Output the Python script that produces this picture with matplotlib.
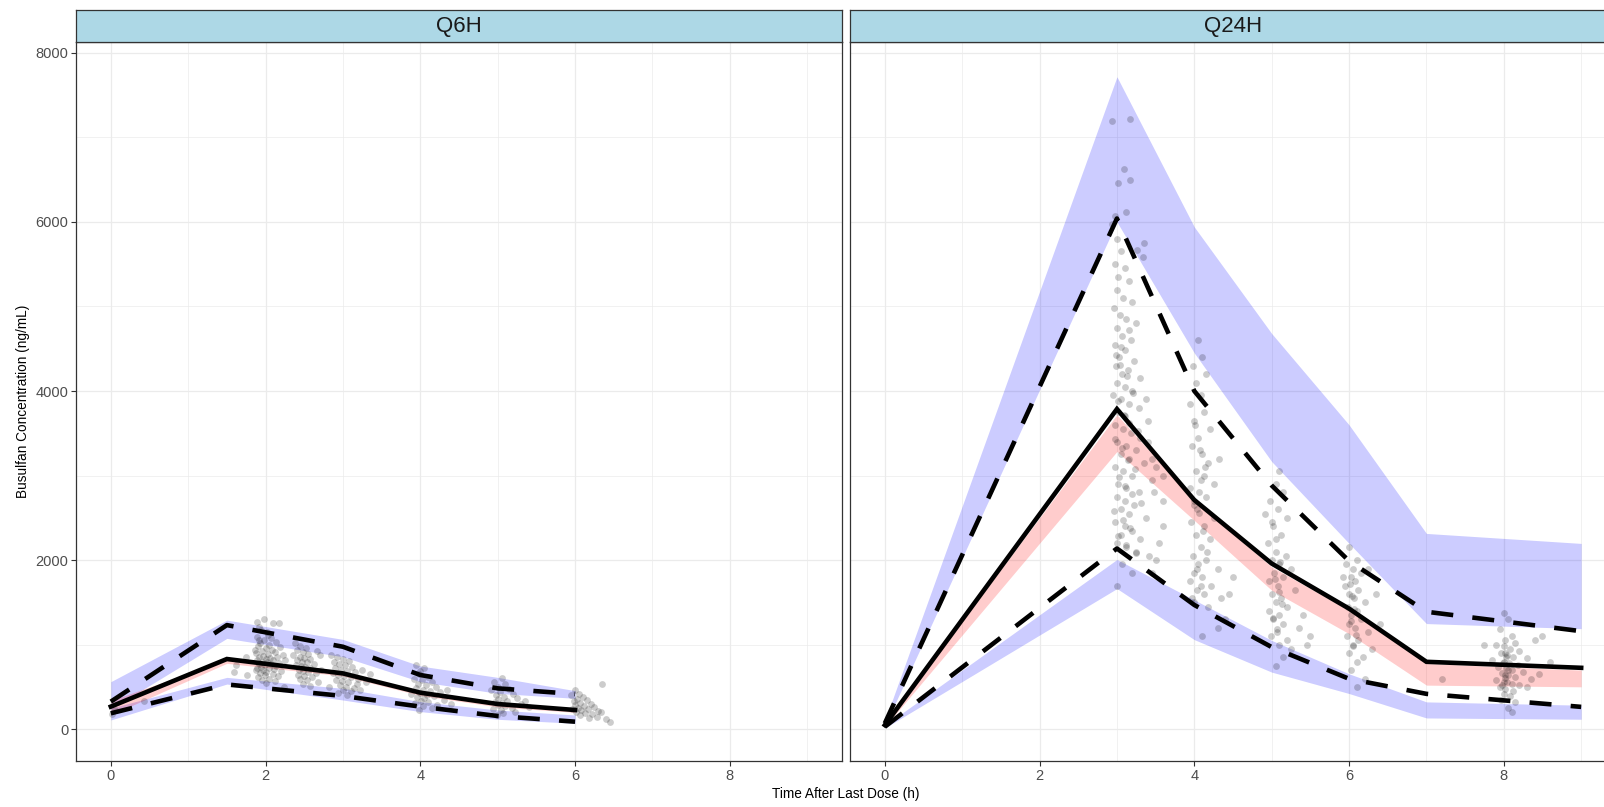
import matplotlib
matplotlib.use("Agg")
import matplotlib.pyplot as plt
import numpy as np

plt.rcParams['font.family'] = ['Liberation Sans', 'DejaVu Sans']

# ---------------- data ----------------
panels = ["Q6H", "Q24H"]

# Q6H simulated percentile summaries (bin midpoints)
q6_bin = [0, 1.5, 3, 4, 5, 6]
q6_p50 = [268, 831, 661, 433, 299, 228]
q6_p50_lo = [170, 780, 630, 400, 265, 200]
q6_p50_hi = [340, 822, 672, 432, 300, 236]
q6_p95 = [327, 1232, 976, 642, 484, 417]
q6_p95_lo = [240, 1075, 858, 563, 425, 366]
q6_p95_hi = [563, 1291, 1063, 748, 614, 457]
q6_p05 = [189, 530, 394, 268, 157, 90]
q6_p05_lo = [110, 535, 346, 209, 118, 71]
q6_p05_hi = [250, 614, 484, 327, 228, 169]

# Q24H simulated percentile summaries
q24_bin = [0, 3, 4, 5, 6, 7, 9]
q24_p50 = [50, 3787, 2711, 1960, 1427, 798, 727]
q24_p50_lo = [30, 3285, 2470, 1644, 1130, 522, 502]
q24_p50_hi = [60, 3720, 2700, 1921, 1407, 778, 700]
q24_p95 = [70, 6040, 4000, 2883, 1990, 1390, 1160]
q24_p95_lo = [40, 6000, 4450, 3166, 2198, 1250, 1190]
q24_p95_hi = [100, 7716, 5940, 4680, 3600, 2316, 2198]
q24_p05 = [30, 2138, 1470, 972, 597, 419, 265]
q24_p05_lo = [15, 1664, 1060, 676, 423, 134, 119]
q24_p05_hi = [45, 2008, 1530, 1051, 656, 324, 285]

# observed concentrations Q6H (time, conc)
q6_obs_t = [0.02, 0.43, 0.05, 1.59, 1.76, 1.75, 1.62,
            1.89, 1.98, 2.10, 2.17, 1.91, 2.02, 1.89, 1.98, 1.93, 2.05, 1.90, 2.00, 2.08, 1.95,
            2.12, 1.88, 2.03, 1.97, 2.15, 1.92, 2.06, 2.00, 1.89, 2.10, 1.95, 2.02, 2.18, 1.91,
            2.07, 1.99, 2.13, 1.94, 2.04, 1.89, 2.11, 1.97, 2.20, 2.01, 1.93, 2.09, 1.99, 2.16,
            1.90, 2.05, 1.96, 2.12, 2.00, 2.24, 2.03, 1.94, 2.07, 2.14, 1.92, 2.19, 2.22, 2.25,
            1.86, 1.87,
            2.38, 2.45, 2.52, 2.41, 2.48, 2.55, 2.36, 2.44, 2.50, 2.58, 2.40, 2.47, 2.53, 2.62,
            2.39, 2.46, 2.51, 2.57, 2.43, 2.49, 2.55, 2.65, 2.42, 2.50, 2.60, 2.45, 2.53, 2.68,
            2.48, 2.58, 2.70, 2.72, 2.66,
            2.85, 2.92, 3.00, 3.08, 2.88, 2.95, 3.03, 3.12, 2.90, 2.98, 3.05, 3.15, 2.87, 2.94,
            3.02, 3.10, 3.20, 2.91, 2.99, 3.06, 3.18, 2.96, 3.04, 3.14, 3.00, 3.10, 2.93, 3.05,
            3.25, 3.30, 3.35, 2.82, 3.22,
            3.95, 4.05, 4.00, 3.98, 4.10, 3.92, 4.02, 4.15, 3.97, 4.07, 4.20, 3.94, 4.03, 4.12,
            4.25, 3.99, 4.08, 4.18, 3.96, 4.05, 4.30, 4.01, 4.10, 3.93, 4.22, 4.04, 4.15, 3.98,
            4.40, 3.88, 4.35,
            5.05, 4.95, 5.10, 5.00, 5.15, 4.92, 5.03, 5.20, 4.98, 5.08, 5.25, 5.01, 5.12, 4.96,
            5.05, 5.30, 5.00, 5.10, 5.18, 4.94, 5.04, 5.40, 5.22, 5.07, 4.99, 5.35,
            6.35, 6.00, 6.05, 5.95, 6.10, 6.02, 6.15, 5.98, 6.07, 6.20, 6.00, 6.12, 6.25, 6.04,
            6.17, 5.96, 6.08, 6.30, 6.01, 6.13, 6.22, 6.06, 6.28, 6.40, 6.45, 6.18, 6.33]
q6_obs_c = [180, 335, 230, 673, 640, 860, 760,
            1272, 1300, 1252, 1252, 1213, 1154, 1094, 1055, 1020, 1000, 980, 960, 940, 925,
            910, 900, 890, 870, 860, 850, 840, 830, 820, 815, 800, 790, 785, 775,
            770, 760, 750, 740, 730, 720, 710, 700, 690, 680, 665, 655, 640, 630,
            620, 600, 585, 570, 543, 504, 1110, 1170, 1080, 1030, 1060, 970, 880, 820,
            940, 700,
            1020, 990, 960, 940, 910, 895, 880, 860, 845, 830, 815, 800, 790, 775,
            760, 750, 735, 720, 705, 690, 675, 660, 645, 630, 615, 595, 580, 560,
            540, 510, 880, 700, 930,
            880, 850, 830, 810, 790, 770, 755, 740, 720, 705, 690, 675, 660, 645,
            630, 615, 600, 585, 570, 555, 540, 520, 505, 490, 470, 450, 430, 400,
            700, 560, 650, 500, 470,
            760, 720, 690, 650, 620, 600, 580, 560, 540, 520, 500, 485, 470, 455,
            440, 425, 410, 395, 380, 365, 350, 335, 320, 305, 290, 270, 250, 230,
            300, 420, 460,
            610, 560, 530, 500, 480, 460, 440, 420, 400, 385, 370, 355, 340, 325,
            310, 300, 285, 270, 255, 240, 225, 260, 210, 190, 170, 330,
            540, 460, 420, 400, 380, 360, 345, 330, 315, 300, 290, 275, 265, 255,
            245, 235, 225, 215, 205, 195, 180, 165, 150, 120, 90, 130, 200]

# observed concentrations Q24H (time, conc)
q24_obs_t = [2.93, 3.17, 3.09, 3.01, 3.17, 2.98, 3.12, 2.93, 3.35, 3.26, 3.34, 3.00, 3.05, 2.98,
             3.10, 3.02, 3.15, 3.00, 3.08, 3.20, 2.96, 3.04, 3.12, 3.25, 3.00, 3.07, 3.18, 2.97,
             3.10, 3.03, 3.22, 2.99, 3.14, 3.06, 3.30, 3.00, 3.11, 3.20, 2.95, 3.05, 3.15, 3.28,
             3.02, 3.10, 3.40, 2.98, 3.08, 3.18, 3.30, 3.00, 3.12, 3.25, 3.05, 3.15, 3.35, 2.97,
             3.08, 3.20, 3.45, 3.02, 3.12, 3.28, 3.00, 3.10, 3.22, 3.05, 3.15, 3.38, 2.98, 3.10,
             3.20, 3.05, 3.30, 3.00, 3.12, 3.25, 3.42, 3.50, 3.60, 3.60, 3.07, 3.20, 3.00, 3.45,
             3.55, 3.40, 3.45, 3.50, 3.38, 3.48, 3.60,
             2.99, 3.04, 3.13, 3.21, 3.01, 3.09, 3.16, 3.27, 2.97, 3.06, 3.14, 3.23, 3.03, 3.11,
             3.19, 3.31, 2.96, 3.08, 3.17, 3.02, 3.12, 3.24, 3.05, 3.15,
             4.05, 4.10, 3.98, 4.15, 4.02, 4.08, 3.95, 4.12, 4.00, 4.20, 4.05, 3.97, 4.10, 4.18,
             4.02, 4.08, 3.94, 4.15, 4.00, 4.06, 4.25, 3.96, 4.12, 4.02, 4.20, 4.08, 3.98, 4.15,
             4.05, 4.30, 4.00, 4.10, 3.95, 4.22, 4.04, 4.12, 4.35, 4.00, 4.18, 4.45, 4.40, 4.30,
             4.10, 4.50, 4.25, 4.32,
             4.01, 4.07, 4.13, 3.99, 4.04, 4.11, 4.17, 4.03, 4.09, 3.97, 4.06, 4.14,
             5.10, 5.05, 5.15, 4.98, 5.08, 5.20, 5.02, 5.12, 4.95, 5.06, 5.18, 5.00, 5.10, 5.25,
             5.03, 5.15, 4.97, 5.08, 5.30, 5.00, 5.12, 5.05, 5.20, 4.96, 5.10, 5.02, 5.15, 5.35,
             5.07, 4.99, 5.20, 5.10, 5.25, 5.45, 5.15, 5.05, 5.40, 5.50, 4.92,
             5.01, 5.06, 5.11, 5.04, 5.09, 5.13, 5.02, 5.07,
             6.00, 6.10, 5.96, 6.05, 6.15, 6.02, 6.08, 5.95, 6.12, 6.00, 6.06, 6.20, 5.98, 6.10,
             6.03, 6.16, 6.00, 6.08, 6.25, 5.97, 6.12, 6.05, 6.30, 6.00, 6.18, 6.10, 6.02, 6.35,
             6.40, 6.20, 6.10, 5.92, 6.25,
             6.01, 6.04, 6.07, 6.03, 6.09, 6.05,
             8.00, 8.05, 7.95, 8.10, 8.02, 8.15, 7.90, 8.00, 8.08, 8.20, 7.97, 8.04, 8.12, 8.30,
             7.85, 8.00, 8.07, 8.18, 7.93, 8.03, 8.10, 8.25, 7.98, 8.05, 8.15, 8.35, 7.90, 8.00,
             8.10, 8.20, 7.95, 8.02, 8.12, 8.00, 8.08, 7.97, 8.15, 8.05, 8.50, 8.45, 7.75, 8.60,
             7.20, 8.40, 8.30, 8.10,
             8.01, 8.03, 7.99, 8.06, 8.02, 8.04, 7.98, 8.01]
q24_obs_c = [7190, 7215, 6620, 6460, 6490, 6070, 6120, 5980, 5750, 5670, 5580, 5800, 5650, 5500,
             5450, 5350, 5300, 5200, 5100, 5050, 4980, 4900, 4850, 4800, 4750, 4650, 4600, 4550,
             4480, 4400, 4350, 4300, 4250, 4200, 4150, 4100, 4050, 4000, 3950, 3900, 3850, 3800,
             3750, 3700, 3650, 3600, 3550, 3500, 3450, 3400, 3350, 3300, 3250, 3200, 3150, 3100,
             3050, 3000, 2950, 2900, 2850, 2800, 2750, 2700, 2650, 2600, 2550, 2500, 2450, 2400,
             2350, 2300, 2250, 2200, 2150, 2100, 2050, 2000, 2400, 2700, 1950, 1850, 1700, 1850,
             2200, 3400, 3200, 3100, 3900, 2800, 3000,
             4420, 4310, 4180, 3980, 3880, 3720, 3620, 3530, 3430, 3330, 3180, 3080, 2980, 2880,
             2780, 2680, 2580, 2480, 2380, 2280, 2180, 2080, 4520, 4720,
             4600, 4400, 4300, 4200, 4100, 3950, 3850, 3750, 3650, 3550, 3450, 3350, 3250, 3150,
             3050, 2950, 2850, 2750, 2650, 2560, 2500, 2450, 2400, 2300, 2250, 2150, 2050, 2000,
             1950, 1900, 1850, 1800, 1750, 1700, 1650, 1600, 1550, 1500, 1450, 1600, 1300, 1200,
             1100, 1800, 2900, 3200,
             3600, 3300, 3000, 2700, 2600, 2350, 2100, 1900, 1700, 1550, 2800, 3100,
             3050, 2900, 2800, 2700, 2600, 2500, 2400, 2300, 2200, 2100, 2050, 2000, 1950, 1900,
             1850, 1800, 1750, 1700, 1650, 1600, 1550, 1500, 1450, 1400, 1350, 1300, 1250, 1200,
             1150, 1100, 1050, 1000, 950, 1000, 850, 750, 1350, 1100, 2550,
             2450, 2250, 1980, 1780, 1620, 1480, 1320, 1180,
             2150, 2000, 1950, 1900, 1850, 1800, 1750, 1700, 1650, 1600, 1550, 1500, 1450, 1400,
             1350, 1300, 1250, 1200, 1150, 1100, 1050, 1000, 950, 900, 850, 800, 700, 1600,
             1250, 600, 500, 1800, 1900,
             1720, 1580, 1420, 1280, 1120, 980,
             1380, 1300, 1180, 1100, 1050, 1020, 1000, 980, 950, 930, 900, 880, 860, 840,
             820, 800, 780, 760, 740, 720, 700, 680, 660, 640, 620, 600, 580, 560,
             540, 520, 500, 480, 450, 420, 390, 350, 320, 250, 1100, 650, 1000, 800,
             600, 1050, 500, 200,
             900, 850, 780, 700, 640, 560, 520, 610]

x_ticks = [0, 2, 4, 6, 8]
y_ticks = [0, 2000, 4000, 6000, 8000]
x_label = "Time After Last Dose (h)"
y_label = "Busulfan Concentration (ng/mL)"

# ---------------- figure ----------------
W, H = 1604, 807
fig = plt.figure(figsize=(W / 100, H / 100), dpi=100)
fig.patch.set_facecolor("white")

pan_w = 766 / W
pan_b = (H - 761) / H
pan_h = (761 - 42) / H
strip_h = 32 / H
lefts = [76 / W, 850 / W]

series = {
    "Q6H": (q6_bin, q6_p05, q6_p05_lo, q6_p05_hi, q6_p50, q6_p50_lo, q6_p50_hi,
            q6_p95, q6_p95_lo, q6_p95_hi, q6_obs_t, q6_obs_c),
    "Q24H": (q24_bin, q24_p05, q24_p05_lo, q24_p05_hi, q24_p50, q24_p50_lo, q24_p50_hi,
             q24_p95, q24_p95_lo, q24_p95_hi, q24_obs_t, q24_obs_c),
}

grid_col = "#EBEBEB"
for i, name in enumerate(panels):
    (tb, p05, p05lo, p05hi, p50, p50lo, p50hi, p95, p95lo, p95hi, ot, oc) = series[name]
    ax = fig.add_axes([lefts[i], pan_b, pan_w, pan_h])
    ax.set_xlim(-0.45, 9.45)
    ax.set_ylim(-375, 8127)
    # grid
    for xv in [1, 3, 5, 7, 9]:
        ax.axvline(xv, color=grid_col, lw=0.5, zorder=0)
    for yv in [1000, 3000, 5000, 7000]:
        ax.axhline(yv, color=grid_col, lw=0.5, zorder=0)
    for xv in x_ticks:
        ax.axvline(xv, color=grid_col, lw=0.9, zorder=0)
    for yv in y_ticks:
        ax.axhline(yv, color=grid_col, lw=0.9, zorder=0)

    ax.fill_between(tb, p95lo, p95hi, color="blue", alpha=0.2, lw=0, zorder=1)
    ax.fill_between(tb, p05lo, p05hi, color="blue", alpha=0.2, lw=0, zorder=1)
    ax.fill_between(tb, p50lo, p50hi, color="red", alpha=0.2, lw=0, zorder=1)

    ax.scatter(ot, oc, s=24, color="black", alpha=0.2, lw=0, zorder=2)

    ax.plot(tb, p50, color="black", lw=3.3, solid_joinstyle="miter", zorder=3)
    for yy in (p05, p95):
        ax.plot(tb, yy, color="black", lw=3.3, linestyle=(0, (4.8, 4.2)),
                dash_capstyle="butt", zorder=3)

    ax.set_xticks(x_ticks)
    ax.set_xticklabels([str(v) for v in x_ticks])
    ax.set_yticks(y_ticks)
    if i == 0:
        ax.set_yticklabels([str(v) for v in y_ticks])
    else:
        ax.tick_params(axis="y", left=False, labelleft=False)
    ax.tick_params(axis="both", length=3.5, width=0.8, color="#333333",
                   labelsize=10.5, labelcolor="#4D4D4D", pad=2)
    for sp in ax.spines.values():
        sp.set_color("#333333")
        sp.set_linewidth(0.9)

    sax = fig.add_axes([lefts[i], pan_b + pan_h, pan_w, strip_h])
    sax.set_facecolor("#ADD8E6")
    sax.set_xticks([])
    sax.set_yticks([])
    for sp in sax.spines.values():
        sp.set_color("#333333")
        sp.set_linewidth(0.9)
    sax.text(0.5, 0.47, name, ha="center", va="center", fontsize=16,
             color="#1A1A1A", transform=sax.transAxes)

fig.text(846 / W, 1 - 794 / H, x_label, ha="center", va="center", fontsize=9.8, color="black")
fig.text(23 / W, 1 - 401 / H, y_label, ha="center", va="center", rotation=90,
         fontsize=9.8, color="black")

fig.savefig("out.png", dpi=100)
